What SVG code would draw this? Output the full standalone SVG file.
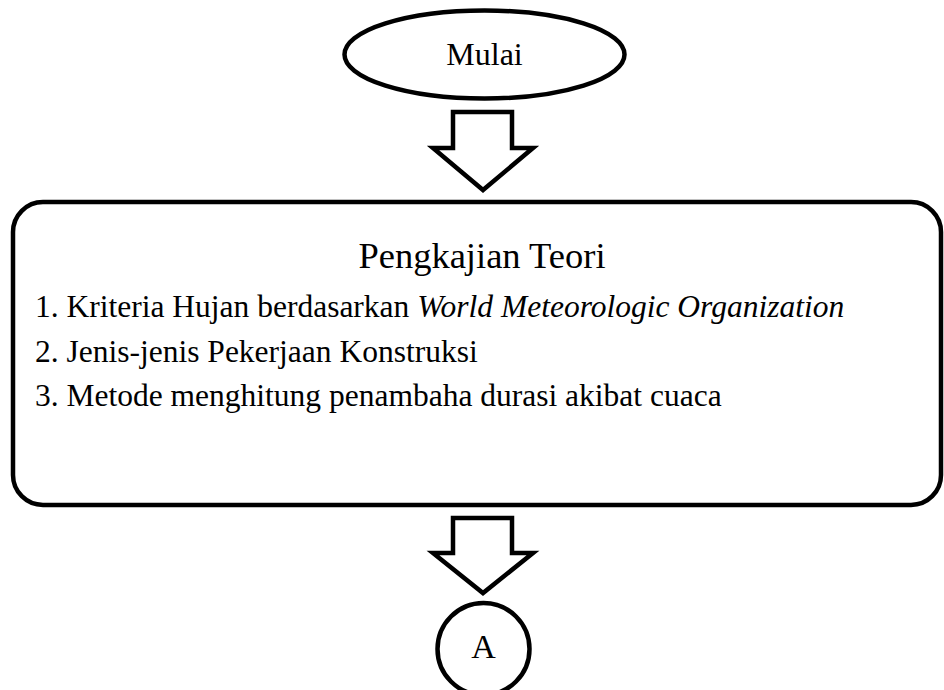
<svg xmlns="http://www.w3.org/2000/svg" width="944" height="690" viewBox="0 0 944 690">
<style>
.shape{fill:#fff;stroke:#000;stroke-width:4.5;stroke-linejoin:miter}
.t{font-family:"Liberation Serif","Times New Roman",serif;fill:#000}
</style>
<rect x="0" y="0" width="944" height="690" fill="#fff"/>
<g id="connectors">
<polygon class="shape" points="453,112 512,112 512,148 533,148 483,190 433,148 453,148"/>
<polygon class="shape" points="453,518 512,518 512,553 533,553 483,593 433,553 453,553"/>
</g>
<g id="start">
<ellipse class="shape" cx="484.5" cy="54.5" rx="140" ry="44" stroke-width="5"/>
<text class="t" x="484.5" y="65" font-size="32" text-anchor="middle">Mulai</text>
</g>
<g id="theory">
<rect class="shape" x="13" y="202" width="928" height="303" rx="30" ry="30"/>
<text class="t" x="482" y="268" font-size="36.5" text-anchor="middle">Pengkajian Teori</text>
<text class="t" x="35" y="317" font-size="31.5">1. Kriteria Hujan berdasarkan <tspan font-style="italic">World Meteorologic Organization</tspan></text>
<text class="t" x="35" y="362" font-size="31.5">2. Jenis-jenis Pekerjaan Konstruksi</text>
<text class="t" x="35" y="406" font-size="31.5">3. Metode menghitung penambaha durasi akibat cuaca</text>
</g>
<g id="connector-a">
<circle class="shape" cx="483.5" cy="649" r="46"/>
<text class="t" x="483.5" y="658" font-size="34" text-anchor="middle">A</text>
</g>
</svg>
